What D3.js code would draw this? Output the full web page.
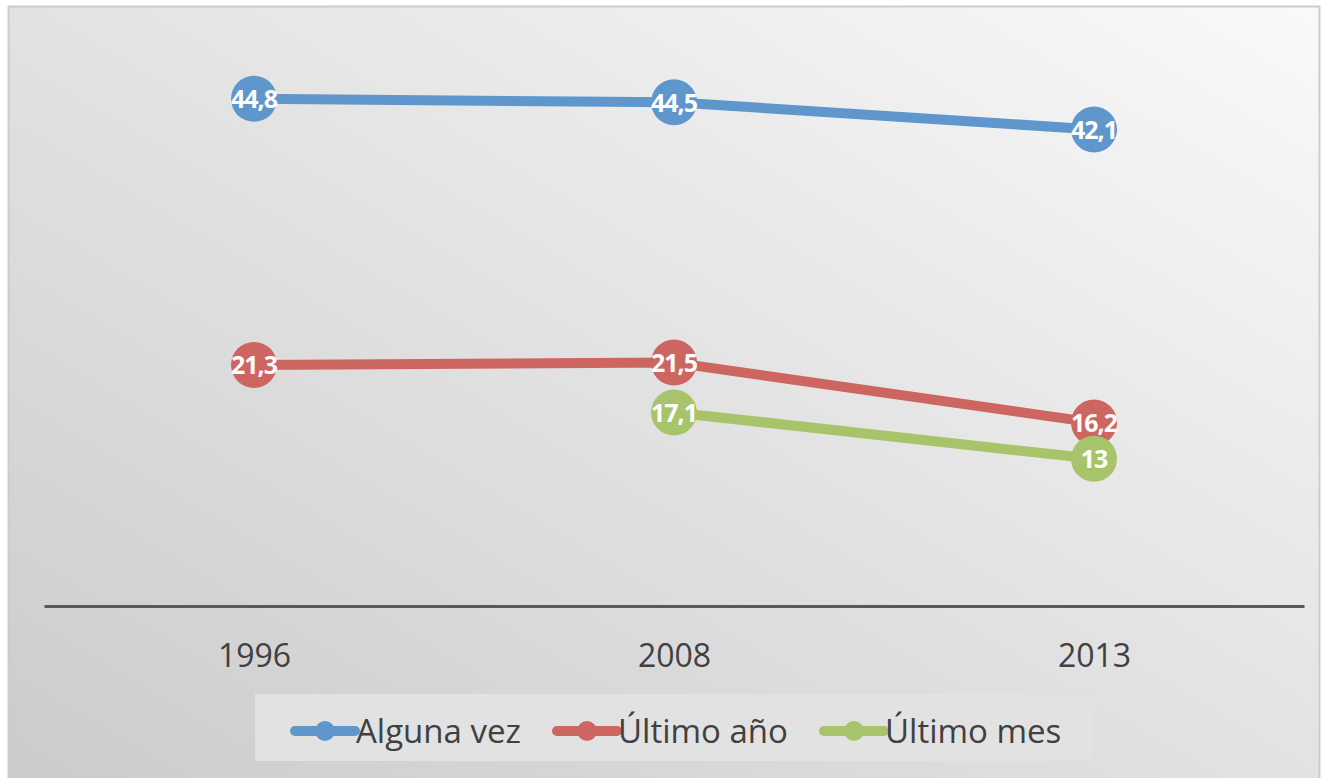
<!DOCTYPE html>
<html>
<head>
<meta charset="utf-8">
<script src="https://d3js.org/d3.v7.min.js"></script>
<style>
  body { margin: 0; background: #ffffff; }
  svg { display: block; }
</style>
</head>
<body>
<div id="chart"></div>
<script>
// chart data
const years = ["1996", "2008", "2013"];
const seriesNames = ["Alguna vez", "Último año", "Último mes"];
const algunaVez = [44.8, 44.5, 42.1];
const ultimoAno = [21.3, 21.5, 16.2];
const ultimoMes = [null, 17.1, 13];
const seriesColors = ["#5f97cc", "#cd6560", "#a8c46a"];

const width = 1322;
const height = 778;
const font = "'Open Sans', 'Noto Sans', sans-serif";

const svg = d3.select("#chart")
    .append("svg")
    .attr("width", width)
    .attr("height", height);

// background gradient like the office chart area
const defs = svg.append("defs");
const grad = defs.append("linearGradient")
    .attr("id", "bg")
    .attr("x1", "100%").attr("y1", "0%")
    .attr("x2", "0%").attr("y2", "100%");
grad.append("stop").attr("offset", "0%").attr("stop-color", "#f9f9f9");
grad.append("stop").attr("offset", "100%").attr("stop-color", "#cbcbcb");

svg.append("rect")
    .attr("x", 8.5).attr("y", 6.5)
    .attr("width", 1311).attr("height", 780)
    .attr("fill", "url(#bg)")
    .attr("stroke", "#cccccc")
    .attr("stroke-width", 2);

const xScale = d3.scalePoint()
    .domain(years)
    .range([44, 1304])
    .padding(0.5);

const yScale = d3.scaleLinear()
    .domain([0, 50])
    .range([606, 40]);

// category axis
const xAxis = d3.axisBottom(xScale).tickSize(0).tickPadding(0);
const axisG = svg.append("g")
    .attr("transform", "translate(0,606)")
    .call(xAxis);
axisG.select(".domain")
    .attr("stroke", "#595959")
    .attr("stroke-width", 3);
axisG.selectAll("text")
    .attr("y", 50)
    .attr("dy", "0.35em")
    .attr("font-family", font)
    .attr("font-size", 32)
    .attr("fill", "#404040");

const series = [algunaVez, ultimoAno, ultimoMes].map((vals, i) => ({
    name: seriesNames[i],
    color: seriesColors[i],
    points: vals.map((v, j) => ({ year: years[j], value: v })).filter(d => d.value !== null)
}));

const line = d3.line()
    .x(d => xScale(d.year))
    .y(d => yScale(d.value));

const fmt = v => String(v).replace(".", ",");

series.forEach(s => {
    const g = svg.append("g");
    g.append("path")
        .datum(s.points)
        .attr("d", line)
        .attr("fill", "none")
        .attr("stroke", s.color)
        .attr("stroke-width", 10)
        .attr("stroke-linejoin", "round");
    g.selectAll("circle")
        .data(s.points)
        .enter()
        .append("circle")
        .attr("cx", d => xScale(d.year))
        .attr("cy", d => yScale(d.value))
        .attr("r", 23)
        .attr("fill", s.color);
});

// data labels drawn on top
series.forEach(s => {
    svg.append("g").selectAll("text")
        .data(s.points)
        .enter()
        .append("text")
        .attr("x", d => xScale(d.year))
        .attr("y", d => yScale(d.value))
        .attr("dy", "0.38em")
        .attr("text-anchor", "middle")
        .attr("font-family", font)
        .attr("font-weight", "bold")
        .attr("font-size", 25)
        .attr("letter-spacing", -1)
        .attr("fill", "#ffffff")
        .text(d => fmt(d.value));
});

// legend
const legend = svg.append("g");
legend.append("rect")
    .attr("x", 255).attr("y", 694)
    .attr("width", 838).attr("height", 67)
    .attr("fill", "#e2e2e2");

const legendX = [295, 557, 824];
series.forEach((s, i) => {
    const lg = legend.append("g").attr("transform", `translate(${legendX[i]},731)`);
    lg.append("line")
        .attr("x1", 0).attr("x2", 60)
        .attr("stroke", s.color)
        .attr("stroke-width", 10)
        .attr("stroke-linecap", "round");
    lg.append("circle")
        .attr("cx", 30).attr("r", 10)
        .attr("fill", s.color);
    lg.append("text")
        .attr("x", 61)
        .attr("dy", "0.35em")
        .attr("font-family", font)
        .attr("font-size", 33)
        .attr("fill", "#404040")
        .text(s.name);
});
</script>
</body>
</html>
